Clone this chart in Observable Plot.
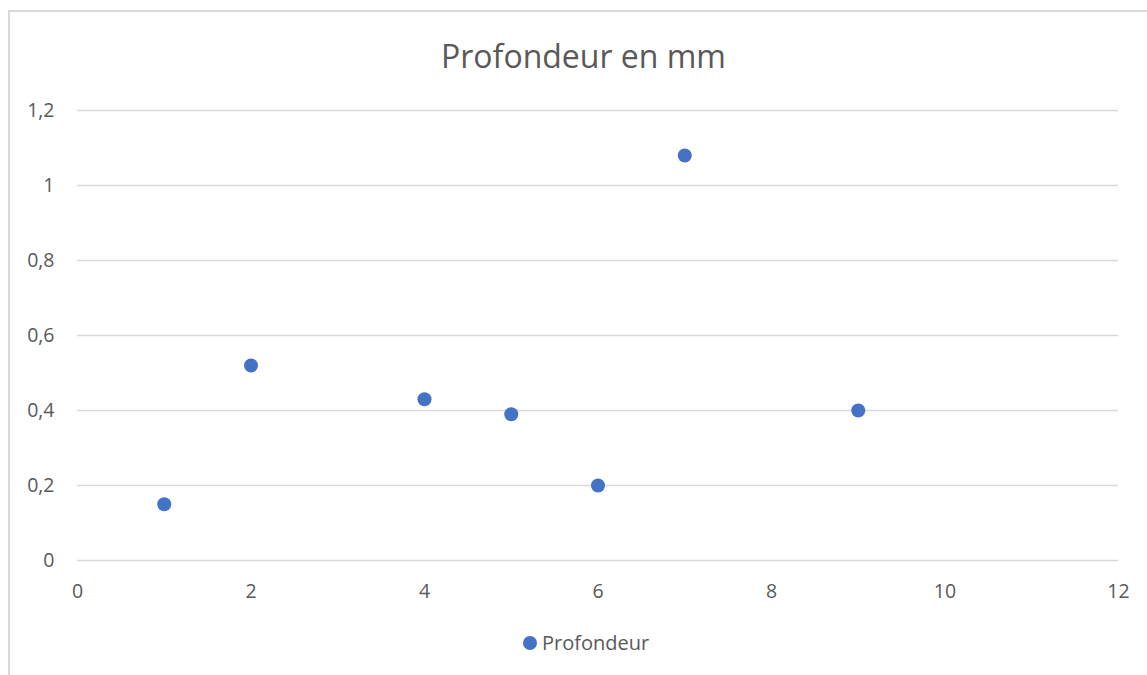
<!DOCTYPE html>
<html>
<head>
<meta charset="utf-8">
<script src="https://cdn.jsdelivr.net/npm/d3@7"></script>
<script src="https://cdn.jsdelivr.net/npm/@observablehq/plot@0.6"></script>
<style>
  body { margin: 0; background: #fff; font-family: "Open Sans", "Noto Sans", sans-serif; }
  #wrap { position: relative; width: 1147px; height: 675px; overflow: hidden; }
  #frame { position: absolute; left: 8px; top: 10px; width: 1200px; height: 720px; border-left: 2px solid #d9d9d9; border-top: 2px solid #d9d9d9; }
  #title { position: absolute; left: 0; width: 1167px; top: 34px; text-align: center; font-size: 32px; color: #595959; }
  #chart { position: absolute; left: 0; top: 80px; }
  #chart svg text { font-size: 19.5px !important; fill: #595959; }
  #legend { position: absolute; left: 523px; top: 629px; font-size: 20px; color: #595959; display: flex; align-items: center; }
  #legend .dot { width: 14px; height: 14px; border-radius: 50%; background: #4472c4; margin-right: 5px; }
</style>
</head>
<body>
<div id="wrap">
  <div id="frame"></div>
  <div id="title">Profondeur en mm</div>
  <div id="chart"></div>
  <div id="legend"><span class="dot"></span><span>Profondeur</span></div>
</div>
<script>
const xValues = [1, 2, 4, 5, 6, 7, 9];
const yValues = [0.15, 0.52, 0.43, 0.39, 0.20, 1.08, 0.40];
const xTicks = [0, 2, 4, 6, 8, 10, 12];
const yTicks = [0, 0.2, 0.4, 0.6, 0.8, 1, 1.2];
const seriesName = "Profondeur";

const data = xValues.map((x, i) => ({x, y: yValues[i], s: seriesName}));
const fmt = d => String(d).replace(".", ",");

const plot = Plot.plot({
  width: 1147,
  height: 540,
  marginLeft: 77,
  marginRight: 29,
  marginTop: 30,
  marginBottom: 60,
  style: { fontFamily: '"Open Sans", "Noto Sans", sans-serif', fontSize: "19.5px", color: "#595959", background: "transparent", overflow: "visible" },
  x: { domain: [0, 12], ticks: xTicks, tickFormat: fmt, label: null },
  y: { domain: [0, 1.2], ticks: yTicks, tickFormat: fmt, label: null },
  marks: [
    Plot.gridY(yTicks, { stroke: "#d9d9d9", strokeOpacity: 1, strokeWidth: 1.5 }),
    Plot.axisX({ ticks: xTicks, tickFormat: fmt, tickSize: 0, tickPadding: 24, fill: "#595959", fontSize: 19.5, label: null }),
    Plot.axisY({ ticks: yTicks, tickFormat: fmt, tickSize: 0, tickPadding: 23, fill: "#595959", fontSize: 19.5, label: null }),
    Plot.dot(data, { x: "x", y: "y", r: 7, fill: "#4472c4", stroke: null })
  ]
});
document.getElementById("chart").appendChild(plot);
</script>
</body>
</html>
